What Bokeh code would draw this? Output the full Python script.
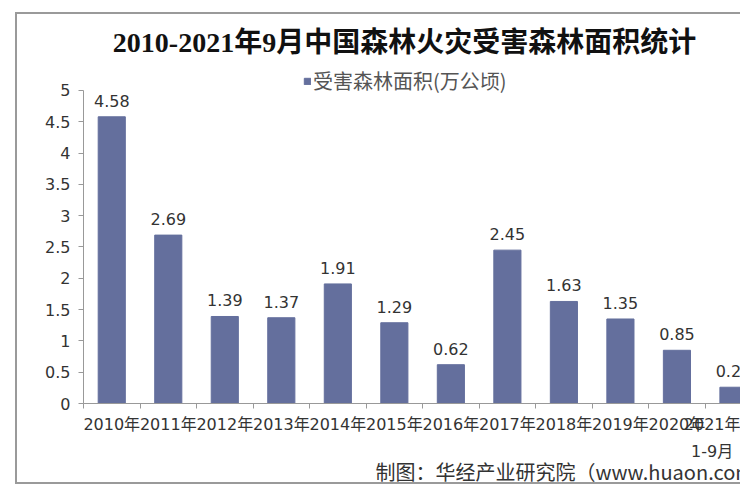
from bokeh.plotting import figure
from bokeh.models import FixedTicker, Label, Range1d, ColumnDataSource, Title
from bokeh.embed import file_html
from bokeh.resources import INLINE

title_text = "2010-2021年9月中国森林火灾受害森林面积统计"
series_name = "受害森林面积(万公顷)"
categories = ["2010年", "2011年", "2012年", "2013年", "2014年", "2015年",
              "2016年", "2017年", "2018年", "2019年", "2020年", "2021年\n1-9月"]
values = [4.58, 2.69, 1.39, 1.37, 1.91, 1.29, 0.62, 2.45, 1.63, 1.35, 0.85, 0.26]
value_labels = ["4.58", "2.69", "1.39", "1.37", "1.91", "1.29", "0.62", "2.45",
                "1.63", "1.35", "0.85", "0.26"]
y_ticks = [0, 0.5, 1, 1.5, 2, 2.5, 3, 3.5, 4, 4.5, 5]
y_tick_labels = ["0", "0.5", "1", "1.5", "2", "2.5", "3", "3.5", "4", "4.5", "5"]
source_note = "制图：华经产业研究院（www.huaon.com）"

BAR = "#646f9d"
TXT = "#333333"

idx = list(range(len(categories)))
src = ColumnDataSource(dict(x=idx, top=values, lab=value_labels))

# frame reaches the top of the canvas; the y axis line itself is bounded to 0..5
p = figure(width=725, height=472, output_backend="svg", toolbar_location=None,
           x_range=Range1d(-0.5, 11.16), y_range=Range1d(0, 6.214),
           min_border_left=66, min_border_right=0, min_border_top=0, min_border_bottom=83,
           outline_line_color=None, background_fill_color="white", border_fill_color="white")
p.margin = (12, 0, 0, 15)
p.styles = {"border-left": "2px solid #9a9a9a", "border-top": "2px solid #9a9a9a",
            "border-bottom": "2px solid #9a9a9a"}
p.grid.visible = False

bars = p.vbar(x="x", top="top", width=0.48, source=src, fill_color=BAR, line_color=BAR,
              legend_label=series_name)
p.text(x="x", y="top", text="lab", source=src, y_offset=-16, text_align="center",
       text_baseline="middle", text_font_size="16px", text_color=TXT,
       text_font={"value": "DejaVu Sans"})

# axes
p.xaxis.ticker = FixedTicker(ticks=idx, minor_ticks=[i - 0.5 for i in range(len(categories) + 1)])
p.xaxis.major_label_overrides = {i: c for i, c in zip(idx, categories)}
p.xaxis.major_tick_line_color = None
p.xaxis.major_tick_out = 0
p.xaxis.major_tick_in = 0
p.xaxis.minor_tick_out = 5
p.xaxis.minor_tick_in = 0
p.xaxis.minor_tick_line_color = "#999999"
p.xaxis.axis_line_color = "#999999"
p.xaxis.major_label_standoff = 6
p.xaxis.major_label_text_line_height = 1.45
p.xaxis.major_label_text_font = "DejaVu Sans, Noto Sans CJK SC"
p.xaxis.major_label_text_font_size = "16px"
p.xaxis.major_label_text_color = TXT

p.yaxis.bounds = (0, 5)
p.yaxis.ticker = FixedTicker(ticks=y_ticks, minor_ticks=[])
p.yaxis.major_label_overrides = {t: l for t, l in zip(y_ticks, y_tick_labels)}
p.yaxis.major_tick_out = 5
p.yaxis.major_tick_in = 0
p.yaxis.major_tick_line_color = "#999999"
p.yaxis.axis_line_color = "#999999"
p.yaxis.major_label_standoff = 8
p.yaxis.major_label_text_font = "DejaVu Sans"
p.yaxis.major_label_text_font_size = "16px"
p.yaxis.major_label_text_color = TXT

# legend (corner given in pixels from the frame's bottom-left)
lg = p.legend[0]
lg.location = (220, 308)
lg.padding = 0
lg.margin = 0
lg.spacing = 0
lg.glyph_width = 8
lg.glyph_height = 8
lg.label_standoff = 2
lg.label_text_font = "Noto Sans CJK SC"
lg.label_text_font_size = "20px"
lg.label_text_color = "#555555"
lg.border_line_color = None
lg.background_fill_alpha = 0

p.add_layout(Label(x=321, y=361, x_units="screen", y_units="screen", text=title_text,
                   text_align="center", text_baseline="middle", text_font_size="28px",
                   text_font_style="bold", text_color="#111111",
                   text_font="Liberation Serif, Noto Sans CJK SC"))

p.add_layout(Title(text=source_note, align="left", offset=292, standoff=-19,
                   text_font_size="20px", text_font_style="normal", text_color=TXT,
                   text_font="Noto Sans CJK SC"), "below")

open("out.html", "w").write(file_html(p, INLINE))
